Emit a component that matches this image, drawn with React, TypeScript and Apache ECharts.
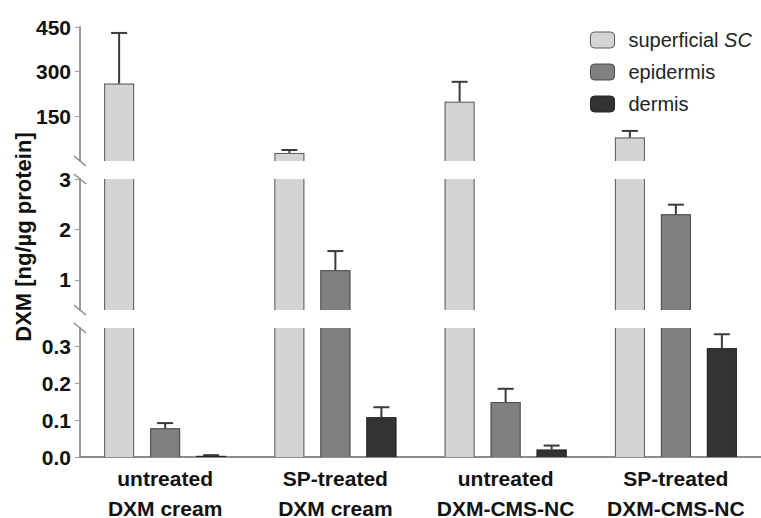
import React, { useEffect, useRef } from 'react';
import * as echarts from 'echarts';

const categoryLine1 = ['untreated', 'SP-treated', 'untreated', 'SP-treated'];
const categoryLine2 = ['DXM cream', 'DXM cream', 'DXM-CMS-NC', 'DXM-CMS-NC'];
const seriesNames = ['superficial SC', 'epidermis', 'dermis'];
const superficial = [260, 27, 199, 79];
const superficialErr = [170, 10, 67, 22];
const epidermis = [0.078, 1.19, 0.149, 2.3];
const epidermisErr = [0.014, 0.38, 0.036, 0.19];
const dermis = [0.003, 0.108, 0.02, 0.295];
const dermisErr = [0.002, 0.027, 0.011, 0.038];

// axis segments: top, middle, bottom
const segMin = [0, 0.4, 0];
const segMax = [450, 3, 0.35];
const segFloor = [3, 0.4, 0]; // lowest value belonging to segment
const segTicks = [[150, 300, 450], [1, 2, 3], [0, 0.1, 0.2, 0.3]];

const values = [superficial, epidermis, dermis];
const errors = [superficialErr, epidermisErr, dermisErr];
const fills = ['#d4d4d4', '#808080', '#333333'];
const borders = ['#5a5a5a', '#4a4a4a', '#262626'];

const FONT = '"Liberation Sans", Arial, sans-serif';
const GRID_LEFT = 80;
const grids = [
  { top: 27, height: 134 },
  { top: 179, height: 131 },
  { top: 328, height: 129 },
];
const BAR_W = 30;
const BAR_GAP = 16;

export default function App() {
  const ref = useRef<HTMLDivElement>(null);
  useEffect(() => {
    const chart = echarts.init(ref.current!, null, { renderer: 'svg' });

    const series: any[] = [];
    grids.forEach((_, g) => {
      seriesNames.forEach((name, s) => {
        series.push({
          type: 'bar',
          name,
          xAxisIndex: g,
          yAxisIndex: g,
          barWidth: BAR_W,
          barGap: (BAR_GAP / BAR_W) * 100 + '%',
          clip: true,
          data: values[s].map((v) => (g === 2 || v > segFloor[g] ? v : '-')),
          itemStyle: { color: fills[s], borderColor: borders[s], borderWidth: 0 },
        });
      });
      // outlines of bars (only the edges that are not cut by the axis break)
      const outData: any[] = [];
      values.forEach((arr, s) => {
        arr.forEach((v, c) => {
          if (g === 2 || v > segFloor[g]) outData.push([c, s, v]);
        });
      });
      series.push({
        type: 'custom',
        xAxisIndex: g,
        yAxisIndex: g,
        encode: { x: 0, y: 2 },
        data: outData,
        z: 4,
        silent: true,
        renderItem: (params: any, api: any) => {
          const c = api.value(0);
          const s = api.value(1);
          const v = api.value(2);
          const clipped = v > segMax[g];
          const pt = api.coord([c, Math.min(v, segMax[g])]);
          const pb = api.coord([c, segMin[g]]);
          const xc = pt[0] + (s - 1) * (BAR_W + BAR_GAP);
          const xl = xc - BAR_W / 2 + 0.5;
          const xr = xc + BAR_W / 2 - 0.5;
          const st = { stroke: borders[s], lineWidth: 1, fill: 'none' };
          const children: any[] = [
            { type: 'line', shape: { x1: xl, y1: pt[1], x2: xl, y2: pb[1] }, style: st },
            { type: 'line', shape: { x1: xr, y1: pt[1], x2: xr, y2: pb[1] }, style: st },
          ];
          if (!clipped) {
            children.push({ type: 'line', shape: { x1: xl, y1: pt[1] + 0.5, x2: xr, y2: pt[1] + 0.5 }, style: st });
          }
          return { type: 'group', children };
        },
      });
      const errData: any[] = [];
      values.forEach((arr, s) => {
        arr.forEach((v, c) => {
          const inSeg = g === 0 ? v > 3 : g === 1 ? v > 0.4 && v <= 3 : v <= 0.35;
          if (inSeg) errData.push([c, s, v, errors[s][c]]);
        });
      });
      series.push({
        type: 'custom',
        xAxisIndex: g,
        yAxisIndex: g,
        encode: { x: 0, y: 2 },
        data: errData,
        z: 5,
        silent: true,
        renderItem: (params: any, api: any) => {
          const c = api.value(0);
          const s = api.value(1);
          const v = api.value(2);
          const e = api.value(3);
          const p0 = api.coord([c, v]);
          const p1 = api.coord([c, v + e]);
          const x = p0[0] + (s - 1) * (BAR_W + BAR_GAP);
          const st = { stroke: '#3a3a3a', lineWidth: 2 };
          return {
            type: 'group',
            children: [
              { type: 'line', shape: { x1: x, y1: p0[1], x2: x, y2: p1[1] }, style: st },
              { type: 'line', shape: { x1: x - 8, y1: p1[1], x2: x + 8, y2: p1[1] }, style: st },
            ],
          };
        },
      });
    });

    const breaks: any[] = [];
    const breakYs = [grids[0].top + grids[0].height, grids[1].top, grids[1].top + grids[1].height, grids[2].top];
    breakYs.forEach((y) => {
      breaks.push({
        type: 'line',
        shape: { x1: GRID_LEFT - 6, y1: y - 5, x2: GRID_LEFT + 6, y2: y + 5 },
        style: { stroke: '#8a8a8a', lineWidth: 1.5 },
        z: 10,
      });
    });

    // 4th grid only carries the second line of the category labels
    const allGrids = [...grids, grids[2]];
    const labelStyle = {
      interval: 0,
      fontFamily: FONT,
      fontWeight: 'bold',
      fontSize: 21,
      lineHeight: 20,
      color: '#111',
    };

    const option: any = {
      animation: false,
      backgroundColor: '#ffffff',
      textStyle: { fontFamily: FONT },
      legend: {
        orient: 'vertical',
        left: 590,
        top: 30,
        padding: 0,
        itemWidth: 24,
        itemHeight: 16,
        itemGap: 12,
        selectedMode: false,
        data: seriesNames.map((n, i) => ({
          name: n,
          itemStyle: { color: fills[i], borderColor: borders[i], borderWidth: 1 },
        })),
        formatter: (n: string) => (n === 'superficial SC' ? '{n|superficial }{i|SC}' : '{n|' + n + '}'),
        textStyle: {
          fontFamily: FONT,
          fontSize: 20,
          color: '#222',
          lineHeight: 20,
          rich: {
            n: { fontFamily: FONT, fontSize: 20, color: '#222', lineHeight: 20 },
            i: { fontFamily: FONT, fontSize: 20, color: '#222', fontStyle: 'italic', lineHeight: 20 },
          },
          padding: [0, 0, 0, 9],
        },
      },
      grid: allGrids.map((gr) => ({
        left: GRID_LEFT,
        right: 0,
        top: gr.top,
        height: gr.height,
        outerBoundsMode: 'none',
        containLabel: false,
      })),
      xAxis: allGrids.map((_, g) => ({
        type: 'category',
        gridIndex: g,
        data: g === 3 ? categoryLine2 : categoryLine1,
        show: g >= 2,
        axisLine: { show: g === 2, lineStyle: { color: '#8c8c8c', width: 2 } },
        axisTick: { show: false },
        axisLabel: { ...labelStyle, show: g >= 2, margin: g === 3 ? 41 : 11 },
      })),
      yAxis: allGrids.map((_, g) => ({
        type: 'value',
        gridIndex: g,
        show: g < 3,
        min: g < 3 ? segMin[g] : 0,
        max: g < 3 ? segMax[g] : 1,
        splitLine: { show: false },
        axisLine: { show: g < 3, lineStyle: { color: '#9a9a9a', width: 2 } },
        axisTick: {
          show: g < 3,
          length: 5,
          lineStyle: { color: '#9a9a9a', width: 1 },
          customValues: g < 3 ? segTicks[g] : [],
        },
        axisLabel: {
          show: g < 3,
          customValues: g < 3 ? segTicks[g] : [],
          fontFamily: FONT,
          fontWeight: 'bold',
          fontSize: 21,
          color: '#111',
          margin: 9,
          formatter: (v: number) => (g === 2 ? v.toFixed(1) : String(v)),
        },
      })),
      graphic: [
        ...breaks,
        {
          type: 'text',
          x: 23,
          y: 237,
          rotation: Math.PI / 2,
          style: {
            text: 'DXM [ng/µg protein]',
            fontFamily: FONT,
            fontSize: 22,
            fontWeight: 'bold',
            fill: '#111',
            align: 'center',
            verticalAlign: 'middle',
          },
        },
      ],
      series,
    };
    chart.setOption(option);
    return () => chart.dispose();
  }, []);
  return <div ref={ref} style={{ position: 'absolute', left: 0, top: 0, width: 761, height: 518 }} />;
}
